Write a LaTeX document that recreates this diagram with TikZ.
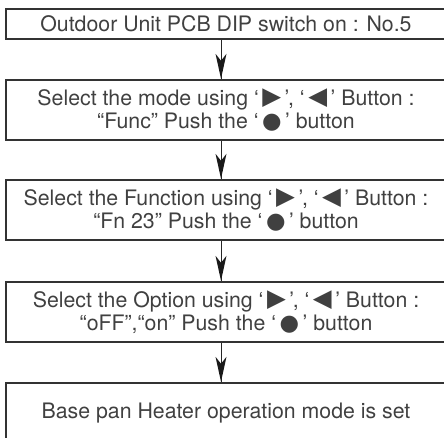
\documentclass[tikz,border=0pt]{standalone}
\usepackage{fontspec}
\setmainfont{TeX Gyre Heros}
\newfontfamily\symfont{DejaVu Sans}
\newcommand{\rtri}{\,{\symfont\raisebox{0.5pt}{\scalebox{1.15}{▶}}}\,}
\newcommand{\ltri}{\,{\symfont\raisebox{0.5pt}{\scalebox{1.15}{◀}}}\,}
\newcommand{\bdot}{\,{\symfont\scalebox{1.05}{●}}\,}
\tikzset{
  stepbox/.style={draw=black!80, line width=1.3pt, minimum width=440pt, inner sep=0pt,
    align=center, font=\fontsize{21.3}{23}\selectfont, text=black!75},
  flowline/.style={draw=black!85, line width=0.9pt},
  flowhead/.style={fill=black!90}
}
\newcommand{\headat}[1]{\fill[flowhead] #1 -- ++(-5.5,-25) -- ++(5.5,7) -- ++(5.5,-7) -- cycle;}
\begin{document}
\begin{tikzpicture}[x=1pt,y=-1pt]
\useasboundingbox (0,0) rectangle (444,437);
\node[stepbox, minimum height=30pt] (b1) at (226,24) {Outdoor Unit PCB DIP switch on : No.5};
\node[stepbox, minimum height=60pt] (b2) at (226,110) {Select the mode using ‘\rtri’, ‘\ltri’ Button :\\“Func” Push the ‘\bdot’ button};
\node[stepbox, minimum height=60pt] (b3) at (226,210) {Select the Function using ‘\rtri’, ‘\ltri’ Button :\\“Fn 23” Push the ‘\bdot’ button};
\node[stepbox, minimum height=60pt] (b4) at (226,312) {Select the Option using ‘\rtri’, ‘\ltri’ Button :\\“oFF”,“on” Push the ‘\bdot’ button};
\node[stepbox, minimum height=60pt] (b5) at (226,413) {Base pan Heater operation mode is set};
\draw[flowline] ([xshift=-5pt]b1.south) -- ([xshift=-5pt]b2.north);
\draw[flowline] ([xshift=-5pt]b2.south) -- ([xshift=-5pt]b3.north);
\draw[flowline] ([xshift=-5pt]b3.south) -- ([xshift=-5pt]b4.north);
\draw[flowline] ([xshift=-5pt]b4.south) -- ([xshift=-5pt]b5.north);
\headat{([xshift=-5pt,yshift=0.6pt]b2.north)}
\headat{([xshift=-5pt,yshift=0.6pt]b3.north)}
\headat{([xshift=-5pt,yshift=0.6pt]b4.north)}
\headat{([xshift=-5pt,yshift=0.6pt]b5.north)}
\end{tikzpicture}
\end{document}
